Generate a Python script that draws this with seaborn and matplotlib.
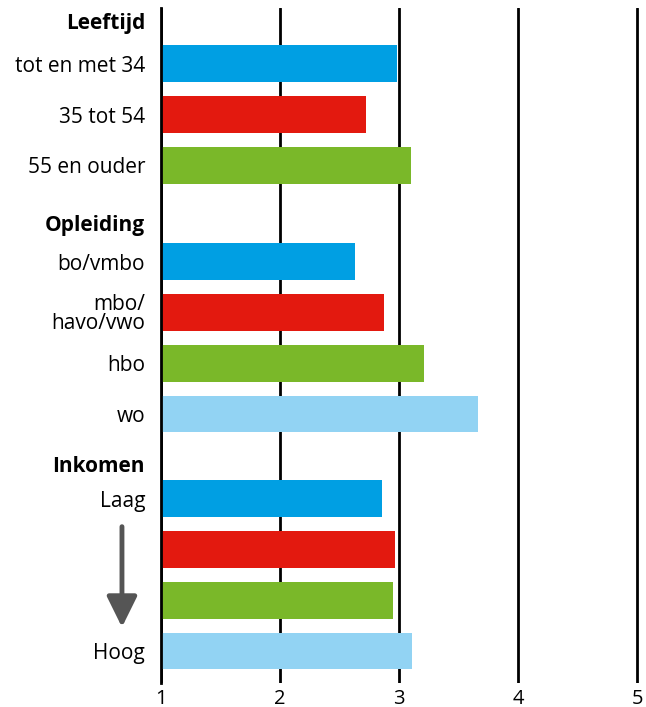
import matplotlib
matplotlib.use("Agg")
import matplotlib.pyplot as plt
import seaborn as sns
import pandas as pd
import numpy as np

# ---- data ----
groups = ["Leeftijd", "Opleiding", "Inkomen"]
leeftijd_labels = ["tot en met 34", "35 tot 54", "55 en ouder"]
leeftijd_values = [2.98, 2.72, 3.10]
opleiding_labels = ["bo/vmbo", "mbo/\nhavo/vwo", "hbo", "wo"]
opleiding_values = [2.63, 2.87, 3.21, 3.66]
inkomen_labels = ["Laag", "", "", "Hoog"]
inkomen_values = [2.86, 2.97, 2.95, 3.11]
x_ticks = [1, 2, 3, 4, 5]

colors = ["#009FE3", "#E3190F", "#7AB829", "#92D3F3"]

# ---- layout ----
group_labels = [leeftijd_labels, opleiding_labels, inkomen_labels]
group_values = [leeftijd_values, opleiding_values, inkomen_values]
group_gaps = [0.0, 1.9, 1.67]     # spacing before each group (in bar steps)
header_offsets = [0.84, 0.77, 0.68]

rows = []
header_pos = []
pos = 0.0
for gi, (labs, vals) in enumerate(zip(group_labels, group_values)):
    if gi > 0:
        pos += group_gaps[gi]
    header_pos.append(pos - header_offsets[gi])
    for j, (l, v) in enumerate(zip(labs, vals)):
        rows.append({"pos": round(pos, 4), "label": l, "score": v, "kleur": f"c{j}"})
        if j < len(labs) - 1:
            pos += 1.0
df = pd.DataFrame(rows)
palette = {f"c{j}": c for j, c in enumerate(colors)}

sns.set_theme(style="white")
plt.rcParams["font.family"] = ["Open Sans", "DejaVu Sans"]

fig = plt.figure(figsize=(6.46, 7.07), dpi=100)
ax = fig.add_axes([161 / 646, 24 / 707, 485 / 646, 675 / 707])

sns.barplot(data=df, x="score", y="pos", hue="kleur", palette=palette,
            orient="h", native_scale=True, width=0.725, dodge=False,
            errorbar=None, legend=False, ax=ax, saturation=1, linewidth=0)

ax.set_xlim(1, 5 + 9 / 119)
ax.set_ylim(df["pos"].max() + 0.63, -1.1)
ax.set_xticks(x_ticks)
ax.set_xticklabels([str(t) for t in x_ticks], fontsize=14.5, color="black")

yt = list(df["pos"]) + header_pos
yl = list(df["label"]) + groups
ax.set_yticks(yt)
ax.set_yticklabels(yl, fontsize=15, linespacing=0.9, color="black")
for t in ax.get_yticklabels():
    if t.get_text() in groups:
        t.set_fontweight("bold")

ax.tick_params(axis="y", length=0, pad=11.5)
ax.tick_params(axis="x", length=0, pad=4)
ax.set_xlabel("")
ax.set_ylabel("")

ax.grid(axis="x", color="black", linewidth=2)
ax.grid(axis="y", visible=False)
ax.set_axisbelow(True)
for s in ["top", "right", "bottom"]:
    ax.spines[s].set_visible(False)
ax.spines["left"].set_color("black")
ax.spines["left"].set_linewidth(2)
ax.spines["left"].set_zorder(5)

# arrow Laag -> Hoog
laag = df["pos"].iloc[len(leeftijd_labels) + len(opleiding_labels)]
hoog = df["pos"].iloc[-1]
ax.annotate("", xy=(0.672, hoog - 0.47), xytext=(0.672, laag + 0.55),
            xycoords="data", annotation_clip=False,
            arrowprops=dict(arrowstyle="-|>,head_length=0.85,head_width=0.42",
                            color="#555555", lw=3.5, mutation_scale=22,
                            shrinkA=0, shrinkB=0))

fig.savefig("out.png", dpi=100)
